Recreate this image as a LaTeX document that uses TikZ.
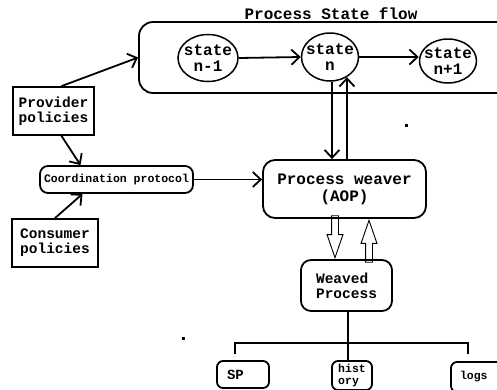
\documentclass[tikz,border=0pt]{standalone}
\usepackage{fontspec}
\setmainfont{Liberation Mono}
\usetikzlibrary{arrows.meta, shapes.geometric, shapes.arrows}

\tikzset{
  box/.style={rectangle, draw=black, line width=1.8pt, inner sep=0},
  rbox/.style={box, rounded corners=10pt},
  state/.style={ellipse, draw=black, line width=1.5pt, inner sep=0},
  statetxt/.style={align=center, inner sep=0, font=\fontsize{16}{16}\selectfont\bfseries},
  hollow/.style={single arrow, draw=black, line width=0.9pt,
    inner xsep=0, inner ysep=3pt, minimum height=42pt,
    single arrow head extend=4.5pt, single arrow tip angle=38},
  bigtxt/.style={font=\fontsize{14.5}{15}\selectfont\bfseries},
  smalltxt/.style={font=\fontsize{11.5}{12}\selectfont\bfseries},
}

\begin{document}
\begin{tikzpicture}[x=1pt, y=-1pt, line width=1.8pt,
    >={Straight Barb[length=8pt, width=15pt]}]
  \clip (0,0) rectangle (497,389);

  % state flow
  \node[font=\fontsize{16}{16}\selectfont\bfseries] (title) at (331,14) {Process State flow};
  \node[rbox, rounded corners=14pt,
    minimum width=371pt,
    minimum height=71pt] (flow) at (324.5,57.5) {};
  \node[state, minimum width=60pt, minimum height=47pt,
    label={[statetxt]center:state\\n-1}] (s1) at (208,58) {};
  \node[state, minimum width=57pt, minimum height=48pt,
    label={[statetxt]center:state\\n}] (s2) at (330,57) {};
  \node[state, minimum width=57pt, minimum height=44pt,
    label={[statetxt]center:state\\n+1}] (s3) at (448,61) {};

  \draw[->] (s1.east) -- (s2.west);
  \draw[->] (s2.east) -- (s2.east -| s3.west);

  % policies
  \node[box, align=left, bigtxt,
    minimum width=81pt,
    minimum height=48pt] (prov) at (53.5,111) {Provider\\policies};
  \node[box, align=left, bigtxt,
    minimum width=86pt,
    minimum height=48pt] (cons) at (55,243) {Consumer\\policies};
  \node[rbox, rounded corners=8pt, smalltxt,
    minimum width=153pt,
    minimum height=27pt] (coord) at (116.5,179.5) {Coordination protocol};

  \draw[->] ([xshift=8pt]prov.north) -- (flow.west);
  \draw[->] ([xshift=8pt]prov.south) -- ([xshift=-36pt]coord.north);
  \draw[->] (cons.north) -- ([xshift=-34pt]coord.south);

  % weaver
  \node[rbox, rounded corners=12pt, align=center,
    font=\fontsize{16}{17}\selectfont\bfseries,
    minimum width=163pt,
    minimum height=58pt] (weaver) at (344.5,189) {Process weaver\\(AOP)};
  \node[rbox, align=left, bigtxt,
    minimum width=91pt,
    minimum height=51pt] (weaved) at (346.5,285.5) {Weaved\\Process};

  \draw[->] (coord.east) -- (coord.east -| weaver.west);
  \draw[->] ([xshift=2pt]s2.south) -- ([xshift=2pt]s2.south |- weaver.north);
  \draw[->] (s2.-50 |- weaver.north) -- (s2.-50);

  \node[hollow, rotate=-90, anchor=tip] (down) at ([xshift=-11.5pt]weaved.north) {};
  \node[hollow, rotate=90, anchor=tip] (up) at ([xshift=24.5pt]weaver.south) {};

  % outputs
  \node[rbox, rounded corners=6pt, text width=32pt,
    font=\fontsize{14}{14}\selectfont\bfseries,
    minimum width=52pt, minimum height=27pt] (sp) at (243,374.5) {SP};
  \node[rbox, rounded corners=6pt, smalltxt, align=left,
    minimum width=40pt, minimum height=29pt] (hist) at (352,375.5) {hist\\ory};
  \node[rbox, rounded corners=6pt, smalltxt, text width=36pt,
    minimum width=54pt, minimum height=30pt] (logs) at (478,377) {logs};

  \coordinate (bus) at (348,343);
  \draw ([xshift=1.5pt]weaved.south) -- ([xshift=1.5pt]weaved.south |- hist.north);
  \draw ([xshift=-8pt, yshift=6pt]sp.north) |- (bus) -| ([xshift=-10pt, yshift=7pt]logs.north);

  % stray dots
  \fill (405,124) rectangle (408,127);
  \fill (182,337) rectangle (185,340);
\end{tikzpicture}
\end{document}
